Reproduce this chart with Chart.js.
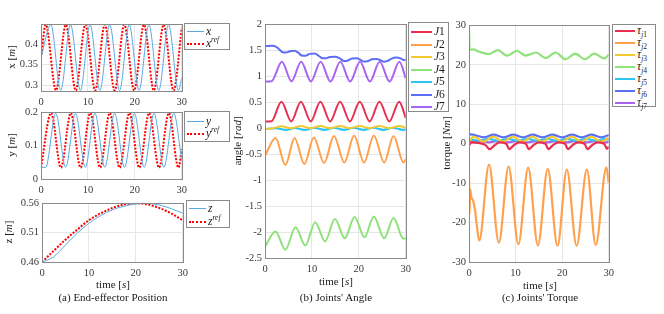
<!DOCTYPE html>
<html>
<head>
<meta charset="utf-8">
<script src="https://cdn.jsdelivr.net/npm/chart.js@4.4.1/dist/chart.umd.min.js"></script>
<style>
  html, body { margin: 0; padding: 0; background: #fff; }
  body { width: 664px; height: 314px; position: relative; overflow: hidden;
         font-family: "Liberation Serif", "Times New Roman", serif; color: #1a1a1a; }
  canvas { position: absolute; }
  .t { position: absolute; white-space: nowrap; transform: translate(-50%, -50%); font-size: 11px; line-height: 1; }
  .rot { transform: translate(-50%, -50%) rotate(-90deg); }
  .leg { position: absolute; border: 1px solid #8a8a8a; background: #fff; box-sizing: border-box; }
  .leg .row { position: absolute; left: 0; right: 0; height: 0; }
  .leg .smp { position: absolute; top: 0; height: 0; }
  .leg .lab { position: absolute; top: -7px; font-size: 11.5px; line-height: 13px; white-space: nowrap; }
  sub, sup { font-size: 7.5px; line-height: 0; }
</style>
</head>
<body>
<script>
/* time axis */
const T_TICKS = [0, 10, 20, 30];

/* (a) end-effector position, [time s, value m] */
const X_TICKS = [0.3, 0.35, 0.4];
const X_MEAS = [[0,0.367],[2.1,0.448],[4.2,0.287],[6.3,0.448],[8.4,0.287],[10.45,0.448],[12.55,0.287],[14.65,0.448],[16.75,0.287],[18.8,0.448],[20.9,0.287],[23.0,0.448],[25.1,0.287],[27.2,0.448],[29.3,0.287],[30,0.318]];
const X_REF = [[0,0.367],[1.0,0.448],[3.2,0.287],[5.3,0.448],[7.4,0.287],[9.45,0.448],[11.55,0.287],[13.6,0.448],[15.7,0.287],[17.75,0.448],[19.85,0.287],[21.95,0.448],[24.05,0.287],[26.15,0.448],[28.25,0.287],[30,0.44]];

const Y_TICKS = [0, 0.1, 0.2];
const Y_MEAS = [[0,0.034],[1.0,0.035],[3.15,0.197],[5.25,0.035],[7.35,0.197],[9.45,0.035],[11.5,0.197],[13.6,0.035],[15.7,0.197],[17.8,0.035],[19.9,0.197],[22.0,0.035],[24.1,0.197],[26.2,0.035],[28.3,0.197],[30,0.055]];
const Y_REF = [[0,0.034],[2.15,0.198],[4.25,0.034],[6.35,0.198],[8.45,0.034],[10.5,0.198],[12.6,0.034],[14.65,0.198],[16.75,0.034],[18.85,0.198],[20.95,0.034],[23.05,0.198],[25.15,0.034],[27.25,0.198],[29.3,0.034],[30,0.09]];

const Z_TICKS = [0.46, 0.51, 0.56];
const Z_MEAS = [[0,0.46],[2.5,0.469],[5,0.489],[7.5,0.509],[10,0.526],[12.5,0.539],[15,0.549],[17.5,0.555],[20,0.559],[22,0.56],[25,0.557],[27.5,0.551],[30,0.543]];
const Z_REF = [[0,0.46],[2.5,0.479],[5,0.498],[7.5,0.515],[10,0.531],[12.5,0.543],[15,0.552],[17.5,0.558],[20,0.56],[22.5,0.558],[25,0.552],[27.5,0.543],[30,0.531]];

/* (b) joint angles, rad */
const ANGLE_TICKS = [-2.5, -2, -1.5, -1, -0.5, 0, 0.5, 1, 1.5, 2];
const J1 = [[0,0.13],[1.4,0.135],[3.5,0.51],[5.6,0.13],[7.65,0.51],[9.75,0.13],[11.8,0.51],[13.9,0.13],[16.0,0.51],[18.1,0.13],[20.2,0.51],[22.3,0.13],[24.4,0.51],[26.5,0.13],[28.6,0.51],[30,0.2]];
const J2 = [[0,-0.53],[2.25,-0.19],[4.35,-0.71],[6.3,-0.19],[8.4,-0.69],[10.4,-0.18],[12.6,-0.67],[14.7,-0.15],[16.9,-0.66],[19.0,-0.14],[21.1,-0.66],[23.2,-0.14],[25.4,-0.66],[27.4,-0.15],[29.5,-0.66],[30,-0.6]];
const J3 = [[0,-0.01],[1.5,-0.005],[3.5,0.035],[5.6,0.0],[7.6,0.04],[9.7,0.0],[11.8,0.04],[13.9,0.0],[16.0,0.04],[18.1,0.0],[20.2,0.04],[22.3,0.0],[24.4,0.04],[26.5,0.0],[28.6,0.04],[30,0.01]];
const J4 = [[0,-2.28],[2.25,-1.99],[4.35,-2.34],[6.5,-1.91],[8.6,-2.26],[10.7,-1.81],[12.8,-2.18],[14.9,-1.75],[17.0,-2.12],[19.1,-1.71],[21.2,-2.1],[23.2,-1.7],[25.4,-2.12],[27.4,-1.73],[29.5,-2.13],[30,-2.12]];
const J5 = [[0,-0.02],[2.3,0.0],[4.4,-0.035],[6.4,0.005],[8.5,-0.035],[10.5,0.01],[12.6,-0.035],[14.7,0.01],[16.8,-0.035],[18.9,0.01],[21.0,-0.035],[23.1,0.01],[25.2,-0.035],[27.3,0.01],[29.4,-0.035],[30,-0.03]];
const J6 = [[0,1.583],[1.5,1.585],[2.3,1.57],[3.0,1.52],[3.8,1.46],[4.5,1.455],[5.3,1.48],[6.2,1.49],[7.0,1.46],[7.8,1.40],[8.6,1.395],[9.5,1.43],[10.6,1.44],[11.5,1.39],[12.3,1.345],[13.0,1.345],[13.8,1.37],[15,1.375],[16,1.34],[16.8,1.295],[17.6,1.30],[18.5,1.34],[19.5,1.345],[20.3,1.32],[21.0,1.285],[21.8,1.29],[22.8,1.325],[23.8,1.33],[24.6,1.31],[25.3,1.28],[26.0,1.29],[27.0,1.34],[28.0,1.36],[29,1.34],[29.6,1.31],[30,1.32]];
const J7 = [[0,0.9],[1.4,0.905],[3.6,1.28],[5.65,0.9],[7.7,1.28],[9.8,0.9],[11.85,1.28],[13.95,0.9],[16.05,1.28],[18.15,0.9],[20.25,1.28],[22.35,0.9],[24.45,1.28],[26.55,0.9],[28.65,1.28],[30,0.96]];

/* (c) joint torques, Nm */
const TORQUE_TICKS = [-30, -20, -10, 0, 10, 20, 30];
const TAU1 = [[0,-0.5],[0.5,0.3],[2,0.2],[3.5,-0.3],[4.4,-1.4],[5.5,-0.4],[6.5,0.3],[8,0],[8.6,-1.4],[9.7,-0.3],[10.7,0.3],[12.2,0],[12.8,-1.4],[13.9,-0.3],[14.9,0.3],[16.4,0],[17.0,-1.4],[18.1,-0.3],[19.1,0.3],[20.6,0],[21.2,-1.4],[22.3,-0.3],[23.3,0.3],[24.8,0],[25.4,-1.4],[26.5,-0.3],[27.5,0.3],[29,0],[29.6,-1.3],[30,-0.8]];
const TAU2 = [[0,-7.5],[0.1,-18],[0.25,-11.5],[0.5,-13.5],[0.9,-14.5],[1.3,-17],[1.7,-21],[2.2,-24.6],[4.3,-5.3],[6.4,-25.1],[8.5,-5.8],[10.6,-25.5],[12.7,-6.1],[14.8,-25.8],[16.9,-6.4],[19.0,-25.9],[21.0,-6.6],[23.1,-25.9],[25.3,-6.6],[27.2,-25.7],[29.5,-6.0],[30,-10]];
const TAU3 = [[0,0.6],[1.0,1.8],[3.1,0.5],[5.2,1.8],[7.3,0.5],[9.4,1.8],[11.5,0.5],[13.6,1.8],[15.7,0.5],[17.8,1.8],[19.9,0.5],[22.0,1.8],[24.1,0.5],[26.2,1.8],[28.3,0.5],[30,1.5]];
const TAU4 = [[0,28.7],[0.15,23.8],[0.9,23.9],[2.2,23.3],[4.2,22.7],[6.2,23.7],[8.1,22.3],[10.3,23.5],[12.2,22.3],[14.4,23.1],[16.4,21.7],[18.6,23.1],[20.7,21.4],[22.8,22.8],[24.9,21.4],[26.9,22.8],[29.1,21.6],[30,22.6]];
const TAU5 = [[0,1.2],[2,0.8],[4.2,1.2],[6.3,0.7],[8.4,1.2],[10.5,0.7],[12.6,1.2],[14.7,0.7],[16.8,1.2],[18.9,0.7],[21,1.2],[23.1,0.7],[25.2,1.2],[27.3,0.7],[29.4,1.2],[30,1.0]];
const TAU6 = [[0,2.4],[1.2,2.2],[3.2,1.6],[5.3,2.3],[7.4,1.6],[9.5,2.3],[11.6,1.6],[13.7,2.3],[15.8,1.6],[17.9,2.3],[20,1.6],[22.1,2.3],[24.2,1.6],[26.3,2.3],[28.4,1.6],[30,2.2]];
const TAU7 = [[0,0.4],[2.1,0.7],[4.2,0.3],[6.3,0.7],[8.4,0.3],[10.5,0.7],[12.6,0.3],[14.7,0.7],[16.8,0.3],[18.9,0.7],[21,0.3],[23.1,0.7],[25.2,0.3],[27.3,0.7],[29.4,0.3],[30,0.5]];

const JOINT_COLORS = ["#E92E50", "#FFA04D", "#F2C931", "#8EE27A", "#2EC4F2", "#5B6EF5", "#A865F2"];
const BLUE = "#5AAAE0";
const RED = "#FF0000";

const TICK_FONT = { family: "Liberation Serif", size: 10.5 };
const TICK_COLOR = "#3a3a3a";

const framePlugin = {
  id: "frame",
  afterDraw(chart) {
    const a = chart.chartArea, ctx = chart.ctx;
    ctx.save();
    ctx.strokeStyle = "#8a8a8a";
    ctx.lineWidth = 1;
    ctx.strokeRect(Math.round(a.left) + 0.5, Math.round(a.top) + 0.5,
      Math.round(a.right - a.left), Math.round(a.bottom - a.top));
    ctx.restore();
  },
};

const pts = (arr) => arr.map(([x, y]) => ({ x, y }));

function line(data, color, width, dash) {
  return {
    data: pts(data),
    borderColor: color,
    borderWidth: width,
    borderDash: dash || [],
    pointRadius: 0,
    cubicInterpolationMode: "monotone",
    fill: false,
  };
}

function plot(box, datasets, yMin, yMax, yTicks) {
  const YW = 45, PT = 8, PR = 8, XH = 22;
  const w = box.r - box.l + YW + PR;
  const h = box.b - box.t + PT + XH;
  const c = document.createElement("canvas");
  c.width = w; c.height = h;
  c.style.left = (box.l - YW) + "px";
  c.style.top = (box.t - PT) + "px";
  c.style.width = w + "px";
  c.style.height = h + "px";
  document.body.appendChild(c);
  new Chart(c, {
    type: "line",
    data: { datasets },
    options: {
      responsive: false,
      animation: false,
      devicePixelRatio: 1,
      layout: { padding: { top: PT, right: PR, left: 0, bottom: 0 } },
      scales: {
        x: {
          type: "linear", min: 0, max: 30,
          afterBuildTicks: (s) => { s.ticks = T_TICKS.map((v) => ({ value: v })); },
          afterFit: (s) => { s.height = XH; },
          ticks: { padding: 5, font: TICK_FONT, color: TICK_COLOR, maxRotation: 0, autoSkip: false },
          grid: { color: "#e6e6e6", drawTicks: false },
          border: { display: false },
        },
        y: {
          min: yMin, max: yMax,
          afterBuildTicks: (s) => { s.ticks = yTicks.map((v) => ({ value: v })); },
          afterFit: (s) => { s.width = YW; },
          ticks: { padding: 3, font: TICK_FONT, color: TICK_COLOR, callback: (v) => String(v) },
          grid: { color: "#e6e6e6", drawTicks: false },
          border: { display: false },
        },
      },
      plugins: { legend: { display: false }, tooltip: { enabled: false } },
    },
    plugins: [framePlugin],
  });
}

function text(html, x, y, rot, size) {
  const d = document.createElement("div");
  d.className = "t" + (rot ? " rot" : "");
  d.style.left = x + "px";
  d.style.top = y + "px";
  if (size) d.style.fontSize = size + "px";
  d.innerHTML = html;
  document.body.appendChild(d);
}

function legend(box, y0, step, smpW, entries) {
  const d = document.createElement("div");
  d.className = "leg";
  d.style.left = box.l + "px";
  d.style.top = box.t + "px";
  d.style.width = box.w + "px";
  d.style.height = box.h + "px";
  entries.forEach((e, i) => {
    const r = document.createElement("div");
    r.className = "row";
    r.style.top = (y0 + i * step) + "px";
    r.innerHTML =
      `<span class="smp" style="left:2px;width:${smpW}px;border-top:${e.w}px ${e.dash ? "dotted" : "solid"} ${e.c};margin-top:-${e.w / 2}px"></span>` +
      `<span class="lab" style="left:${smpW + 4}px">${e.html}</span>`;
    d.appendChild(r);
  });
  document.body.appendChild(d);
}

function init() {
  /* (a) */
  plot({ l: 41, r: 184, t: 23, b: 91 },
    [line(X_MEAS, BLUE, 1), line(X_REF, RED, 2, [2, 1.5])], 0.2856, 0.4488, X_TICKS);
  plot({ l: 41, r: 184, t: 111, b: 179 },
    [line(Y_MEAS, BLUE, 1), line(Y_REF, RED, 2, [2, 1.5])], 0, 0.2, Y_TICKS);
  plot({ l: 42, r: 185, t: 202, b: 262 },
    [line(Z_MEAS, BLUE, 1), line(Z_REF, RED, 2, [2, 1.5])], 0.46, 0.56, Z_TICKS);

  /* (b) */
  plot({ l: 265, r: 408, t: 23, b: 258 },
    [J1, J2, J3, J4, J5, J6, J7].map((s, i) => line(s, JOINT_COLORS[i], 2)), -2.5, 2, ANGLE_TICKS);

  /* (c) */
  plot({ l: 469, r: 611, t: 24, b: 262 },
    [TAU1, TAU2, TAU3, TAU4, TAU5, TAU6, TAU7].map((s, i) => line(s, JOINT_COLORS[i], 2.2)), -30, 30, TORQUE_TICKS);

  /* axis labels */
  text("x [<i>m</i>]", 11, 57, true);
  text("y [<i>m</i>]", 11, 145, true);
  text("z [<i>m</i>]", 8, 232, true);
  text("time [<i>s</i>]", 113, 284);
  text("(a) End-effector Position", 113, 297);

  text("angle [<i>rad</i>]", 237, 141, true);
  text("time [<i>s</i>]", 336, 281);
  text("(b) Joints' Angle", 336, 297);

  text("torque [<i>Nm</i>]", 446, 143, true);
  text("time [<i>s</i>]", 540, 285);
  text("(c) Joints' Torque", 540, 297);

  /* legends */
  legend({ l: 184, t: 23, w: 46, h: 27 }, 7.7, 12, 17, [
    { html: "<i>x</i>", c: BLUE, w: 1 },
    { html: "<i>x</i><sup><i>ref</i></sup>", c: RED, w: 2, dash: true },
  ]);
  legend({ l: 184, t: 111, w: 46, h: 31 }, 9.7, 12.6, 17, [
    { html: "<i>y</i>", c: BLUE, w: 1 },
    { html: "<i>y</i><sup><i>ref</i></sup>", c: RED, w: 2, dash: true },
  ]);
  legend({ l: 186, t: 200, w: 44, h: 28 }, 7.7, 13, 17, [
    { html: "<i>z</i>", c: BLUE, w: 1 },
    { html: "<i>z</i><sup><i>ref</i></sup>", c: RED, w: 2, dash: true },
  ]);
  legend({ l: 408, t: 22, w: 41, h: 90 }, 9.4, 12.5, 21, JOINT_COLORS.map((c, i) => (
    { html: `<i>J</i>${i + 1}`, c, w: 2 })));
  legend({ l: 612, t: 24, w: 44, h: 83 }, 6, 11.95, 20, JOINT_COLORS.map((c, i) => (
    { html: `<i>τ</i><sub><i>j</i>${i + 1}</sub>`, c, w: 2 })));
}

if (document.readyState === "loading") {
  document.addEventListener("DOMContentLoaded", init);
} else {
  init();
}
</script>
</body>
</html>
